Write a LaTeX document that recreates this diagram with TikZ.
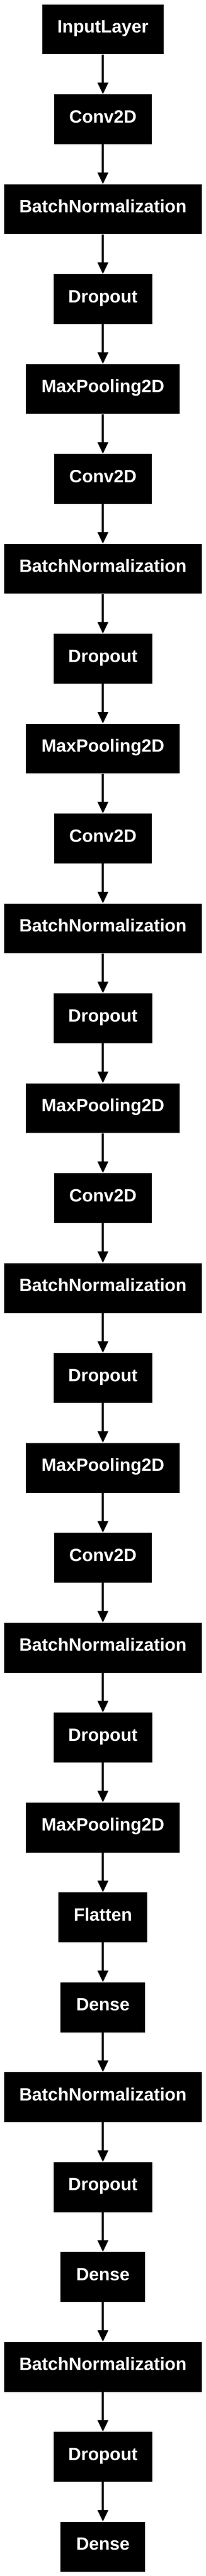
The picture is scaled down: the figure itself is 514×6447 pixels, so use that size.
\documentclass[tikz,border=0pt]{standalone}
\usepackage{fontspec}
\setmainfont{Liberation Sans}
\usetikzlibrary{arrows.meta}
\tikzset{
  layerbox/.style={rectangle, fill=black, draw=none, inner sep=0pt,
    minimum height=125pt, text=white, text height=17pt, text depth=0pt,
    font=\fontsize{44.5}{50}\selectfont\bfseries},
  flowarrow/.style={line width=5pt, -{Triangle[length=29pt,width=26pt]}}
}
\begin{document}
\begin{tikzpicture}[x=1pt,y=-1pt]
\useasboundingbox (0,0) rectangle (514,6447);
\foreach \lab/\w [count=\i from 0] in {
  InputLayer/303,
  Conv2D/244, BatchNormalization/494, Dropout/247, MaxPooling2D/384,
  Conv2D/244, BatchNormalization/494, Dropout/247, MaxPooling2D/384,
  Conv2D/244, BatchNormalization/494, Dropout/247, MaxPooling2D/384,
  Conv2D/244, BatchNormalization/494, Dropout/247, MaxPooling2D/384,
  Conv2D/244, BatchNormalization/494, Dropout/247, MaxPooling2D/384,
  Flatten/222, Dense/211, BatchNormalization/494, Dropout/247,
  Dense/211, BatchNormalization/494, Dropout/247, Dense/211}
{
  \node[layerbox, minimum width=\w pt] (n\i) at (257, {73.5+225*\i}) {\lab};
}
\foreach \i in {1,...,28}{
  \pgfmathtruncatemacro{\j}{\i-1}
  \draw[flowarrow] (n\j.south) -- (n\i.north);
}
\end{tikzpicture}
\end{document}
